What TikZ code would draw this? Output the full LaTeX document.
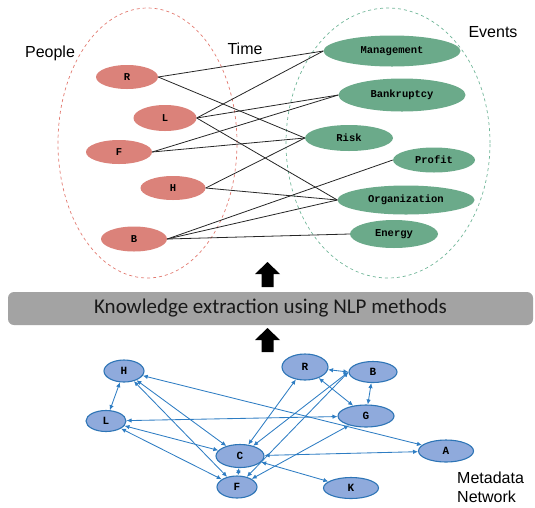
\documentclass[tikz,border=0pt]{standalone}
\usepackage{fontspec}
\setmainfont{Liberation Sans}
\newfontfamily\monob{Liberation Mono}
\newfontfamily\barfont{Carlito}
\usetikzlibrary{shapes.geometric,arrows.meta}
\definecolor{pfill}{RGB}{219,130,122}
\definecolor{efill}{RGB}{107,170,138}
\definecolor{pdash}{RGB}{226,122,112}
\definecolor{edash}{RGB}{112,182,152}
\definecolor{nfill}{RGB}{143,170,220}
\definecolor{nline}{RGB}{46,117,182}
\definecolor{aline}{RGB}{46,125,195}
\definecolor{barfill}{RGB}{163,163,163}
\tikzset{
  pnode/.style={ellipse,fill=pfill,inner sep=0pt,font=\monob\bfseries\fontsize{10.5}{12}\selectfont},
  enode/.style={ellipse,fill=efill,inner sep=0pt,font=\monob\bfseries\fontsize{10.5}{12}\selectfont},
  nnode/.style={ellipse,fill=nfill,draw=nline,line width=1.1pt,inner sep=0pt,font=\monob\bfseries\fontsize{11}{12}\selectfont},
  link/.style={black!85,line width=0.8pt},
  narrow/.style={aline,line width=0.85pt,{Latex[length=5pt,width=4.5pt]}-{Latex[length=5pt,width=4.5pt]}},
  biglabel/.style={font=\fontsize{16}{18}\selectfont,inner sep=0pt},
  blockarrow/.style={fill=black}
}
\begin{document}
\begin{tikzpicture}[x=1pt,y=-1pt]
\useasboundingbox (0,0) rectangle (535,507);
% group ellipses
\draw[pdash,dashed,line width=0.7pt] (147.5,143) ellipse [x radius=89.5pt, y radius=135pt];
\draw[edash,dashed,line width=0.7pt] (388,143) ellipse [x radius=102pt, y radius=135pt];
% labels
\node[biglabel] (lpeople) at (50,53) {People};
\node[biglabel] (ltime) at (245,49) {Time};
\node[biglabel] (levents) at (493,32) {Events};
% people
\node[pnode,minimum width=62pt,minimum height=24pt] (pR) at (127,77) {R};
\node[pnode,minimum width=63pt,minimum height=26pt] (pL) at (165,118) {L};
\node[pnode,minimum width=66pt,minimum height=24pt] (pF) at (119,152) {F};
\node[pnode,minimum width=65pt,minimum height=24pt] (pH) at (173,188) {H};
\node[pnode,minimum width=66pt,minimum height=25pt] (pB) at (134,239) {B};
% events
\node[enode,minimum width=137pt,minimum height=31pt] (eMan) at (392,51) {Management};
\node[enode,minimum width=127pt,minimum height=33pt] (eBan) at (402,95) {Bankruptcy};
\node[enode,minimum width=88pt,minimum height=26pt] (eRis) at (349,138) {Risk};
\node[enode,minimum width=82pt,minimum height=25pt] (ePro) at (434,160) {Profit};
\node[enode,minimum width=137pt,minimum height=29pt] (eOrg) at (406,200) {Organization};
\node[enode,minimum width=88pt,minimum height=28pt] (eEne) at (394,234) {Energy};
% links
\draw[link] (pR.east) -- (eMan.west);
\draw[link] (pR.east) -- (eRis.west);
\draw[link] (pL.east) -- (eMan.west);
\draw[link] (pL.east) -- (eBan.west);
\draw[link] (pL.east) -- (eOrg.west);
\draw[link] (pF.east) -- (eBan.west);
\draw[link] (pF.east) -- (eRis.west);
\draw[link] (pH.east) -- (eRis.west);
\draw[link] (pH.east) -- (eOrg.west);
\draw[link] (pB.east) -- (ePro.west);
\draw[link] (pB.east) -- (eOrg.west);
\draw[link] (pB.east) -- (eEne.west);
% bar
\node[fill=barfill,rounded corners=6pt,minimum width=525pt,minimum height=33pt,inner sep=0pt,
  font=\barfont\fontsize{21}{24}\selectfont,text=black!90] (bar) at (270.5,308.5) {Knowledge extraction using NLP methods};
% block arrows
\fill[blockarrow] (267.5,262) -- (280,274) -- (273.5,274) -- (273.5,287) -- (261.5,287) -- (261.5,274) -- (255,274) -- cycle;
\fill[blockarrow] (267.5,328) -- (280,340) -- (273.5,340) -- (273.5,352) -- (261.5,352) -- (261.5,340) -- (255,340) -- cycle;
% network nodes
\node[nnode,minimum width=40pt,minimum height=22pt] (nH) at (124,371) {H};
\node[nnode,minimum width=40pt,minimum height=21pt] (nL) at (106,421) {L};
\node[nnode,minimum width=48pt,minimum height=23pt] (nC) at (240,456) {C};
\node[nnode,minimum width=40pt,minimum height=22pt] (nF) at (237,487) {F};
\node[nnode,minimum width=46pt,minimum height=26pt] (nR) at (305,367) {R};
\node[nnode,minimum width=48pt,minimum height=21pt] (nB) at (373,372) {B};
\node[nnode,minimum width=56pt,minimum height=22pt] (nG) at (366,416) {G};
\node[nnode,minimum width=55pt,minimum height=22pt] (nA) at (446,451) {A};
\node[nnode,minimum width=55pt,minimum height=21pt] (nK) at (351,488) {K};
% network edges
\draw[narrow] (nH) -- (nL);
\draw[narrow] (nH) -- (nC);
\draw[narrow] (nH) -- (nF);
\draw[narrow] (nH) -- (nA);
\draw[narrow] (nL) -- (nG);
\draw[narrow] (nL) -- (nC);
\draw[narrow] (nL) -- (nF);
\draw[narrow] (nC) -- (nF);
\draw[narrow] (nC) -- (nR);
\draw[narrow] (nC) -- (nB.west);
\draw[narrow] (nC) -- (nA);
\draw[narrow] (nC) -- (nK);
\draw[narrow] (nF) -- (nB.west);
\draw[narrow] (nF) -- (nG);
\draw[narrow] (nR) -- (nB.west);
\draw[narrow] (nR) -- (nG);
\draw[narrow] (nB) -- (nG);
% metadata label
\node[biglabel,anchor=west,align=left] (lmeta) at (457,487) {Metadata\\[1pt]Network};
\end{tikzpicture}
\end{document}
